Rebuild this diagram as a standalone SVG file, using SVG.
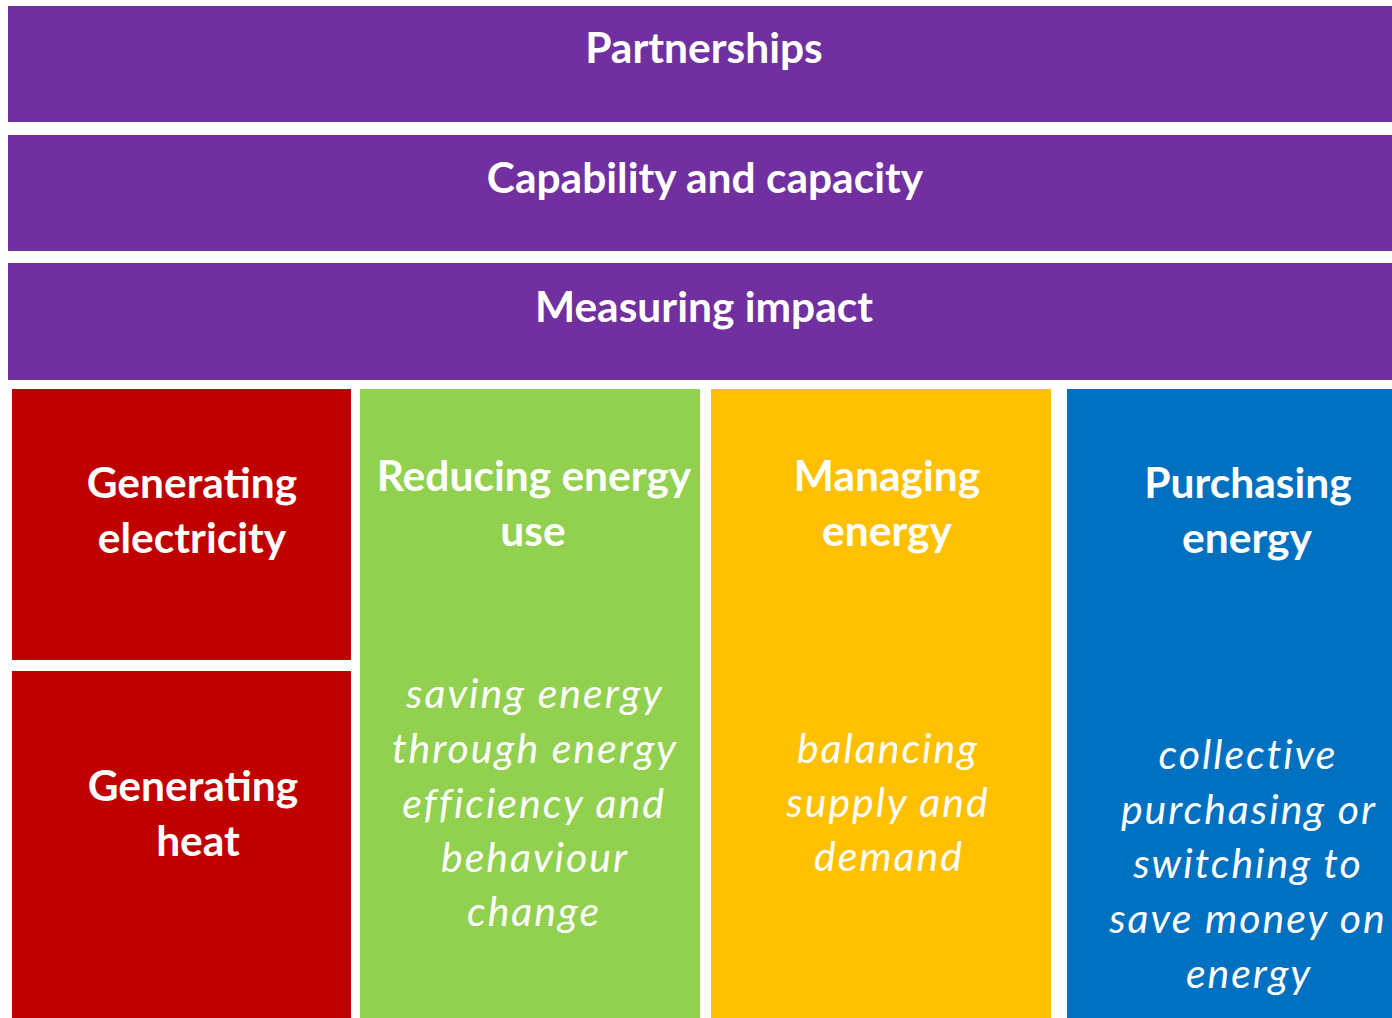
<svg xmlns="http://www.w3.org/2000/svg" width="1392" height="1018" viewBox="0 0 1392 1018">
<style>
.t{font-family:Lato,"Open Sans","Liberation Sans",sans-serif;fill:#fff;text-anchor:middle}
.h{font-weight:bold;font-size:42.5px}
.i{font-style:italic;font-size:41px;letter-spacing:2px}
</style>
<rect width="1392" height="1018" fill="#fff"/>
<g id="partnerships"><rect x="8" y="6" width="1384" height="116" fill="#7030A0"/><text class="t h" x="704" y="63">Partnerships</text></g>
<g id="capability"><rect x="8" y="135" width="1384" height="116" fill="#7030A0"/><text class="t h" x="705" y="193">Capability and capacity</text></g>
<g id="measuring"><rect x="8" y="263" width="1384" height="117" fill="#7030A0"/><text class="t h" x="704" y="322">Measuring impact</text></g>
<g id="gen-elec"><rect x="12" y="389" width="339" height="271" fill="#C00000"/><text class="t h" x="192" y="498">Generating</text><text class="t h" x="192" y="553">electricity</text></g>
<g id="gen-heat"><rect x="12" y="671" width="339" height="347" fill="#C00000"/><text class="t h" x="193" y="801">Generating</text><text class="t h" x="198" y="856">heat</text></g>
<g id="reducing"><rect x="360" y="389" width="340" height="629" fill="#92D050"/><text class="t h" x="534" y="491">Reducing energy</text><text class="t h" x="533" y="546">use</text>
<text class="t i" x="535" y="708">saving energy</text><text class="t i" x="535" y="763">through energy</text><text class="t i" x="534" y="818">efficiency and</text><text class="t i" x="535" y="872">behaviour</text><text class="t i" x="534" y="926">change</text></g>
<g id="managing"><rect x="711" y="389" width="340" height="629" fill="#FFC000"/><text class="t h" x="887" y="491">Managing</text><text class="t h" x="887" y="546">energy</text>
<text class="t i" x="888" y="763">balancing</text><text class="t i" x="888" y="817">supply and</text><text class="t i" x="889" y="871">demand</text></g>
<g id="purchasing"><rect x="1067" y="389" width="325" height="629" fill="#0070C0"/><text class="t h" x="1248" y="498">Purchasing</text><text class="t h" x="1247" y="553">energy</text>
<text class="t i" x="1248" y="769">collective</text><text class="t i" x="1249" y="824">purchasing or</text><text class="t i" x="1248" y="878">switching to</text><text class="t i" x="1248" y="933">save money on</text><text class="t i" x="1249" y="988">energy</text></g>
<g id="connectors"></g>
</svg>
